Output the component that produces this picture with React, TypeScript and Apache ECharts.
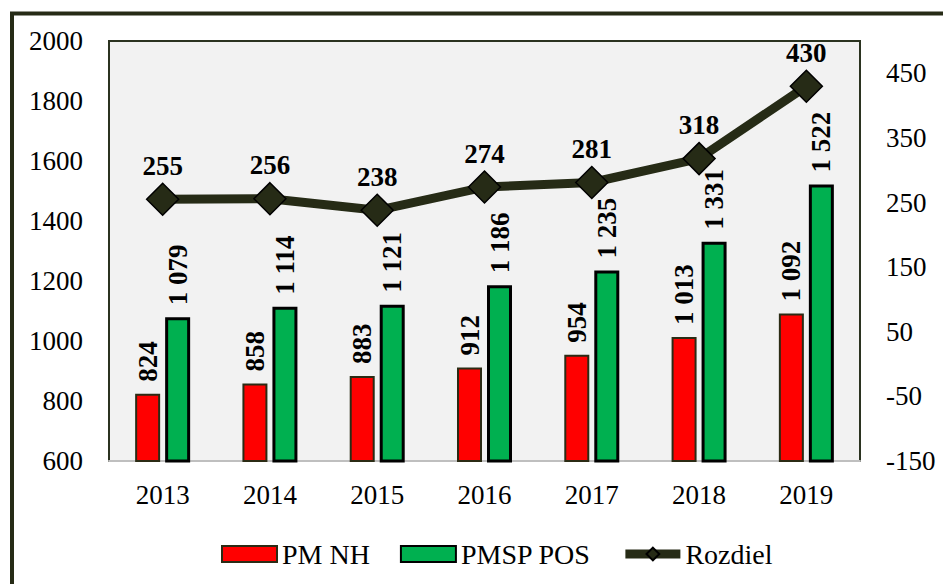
import React, { useEffect, useRef } from 'react';
import * as echarts from 'echarts';

const years = ['2013', '2014', '2015', '2016', '2017', '2018', '2019'];
const pmNH = [824, 858, 883, 912, 954, 1013, 1092];
const pmspPOS = [1079, 1114, 1121, 1186, 1235, 1331, 1522];
const rozdiel = [255, 256, 238, 274, 281, 318, 430];
const rightTickLabels = [-150, -50, 50, 150, 250, 350, 450];

const FONT = 'Liberation Serif';
const DARK = '#262b16';

const fmt = (v: number) => String(v).replace(/\B(?=(\d{3})+(?!\d))/g, ' ');

export default function App() {
  const ref = useRef<HTMLDivElement>(null);
  useEffect(() => {
    if (!ref.current) return;
    const chart = echarts.init(ref.current, undefined, { renderer: 'svg' });
    const barLabel = {
      show: true,
      position: 'top',
      rotate: 90,
      align: 'left',
      verticalAlign: 'middle',
      distance: 12,
      fontSize: 27,
      fontWeight: 'bold',
      color: '#000',
      fontFamily: FONT,
      formatter: (p: any) => fmt(p.value),
    };
    chart.setOption({
      animation: false,
      backgroundColor: '#ffffff',
      textStyle: { fontFamily: FONT },
      graphic: [
        {
          type: 'rect',
          silent: true,
          z: -10,
          shape: { x: 12, y: 13.5, width: 1400, height: 1400 },
          style: { fill: 'none', stroke: DARK, lineWidth: 4 },
        },
      ],
      grid: {
        left: 109,
        right: 83,
        top: 41,
        bottom: 123,
        show: true,
        backgroundColor: '#f2f2f2',
        borderColor: '#2b3320',
        borderWidth: 2,
      },
      legend: {
        left: 216,
        top: 535,
        itemWidth: 55,
        itemHeight: 16,
        itemGap: 30,
        textStyle: { fontSize: 28, color: '#000', fontFamily: FONT },
        data: [
          { name: 'PM NH', icon: 'rect' },
          { name: 'PMSP POS', icon: 'rect' },
          { name: 'Rozdiel', lineStyle: { width: 9, color: DARK } },
        ],
      },
      xAxis: {
        type: 'category',
        data: years,
        axisLine: { show: true, onZero: false, lineStyle: { color: '#bfbfbf', width: 2 } },
        axisTick: { show: false },
        axisLabel: { fontSize: 27, color: '#000', margin: 20, fontFamily: FONT },
        splitLine: { show: false },
      },
      yAxis: [
        {
          type: 'value',
          min: 600,
          max: 2000,
          interval: 200,
          axisLine: { show: false },
          axisTick: { show: false },
          splitLine: { show: false },
          axisLabel: {
            fontSize: 27,
            color: '#000',
            margin: 26,
            fontFamily: FONT,
            formatter: (v: number) => String(v),
          },
        },
        {
          type: 'value',
          position: 'right',
          min: -150,
          max: 500,
          axisLine: { show: false },
          axisTick: { show: false },
          splitLine: { show: false },
          axisLabel: {
            fontSize: 27,
            color: '#000',
            margin: 26,
            fontFamily: FONT,
            customValues: rightTickLabels,
            formatter: (v: number) => String(v),
          },
        },
      ],
      series: [
        {
          name: 'PM NH',
          type: 'bar',
          data: pmNH,
          barWidth: 25,
          barGap: '20%',
          itemStyle: { color: '#ff0000', borderColor: '#2b2b14', borderWidth: 2 },
          label: barLabel,
        },
        {
          name: 'PMSP POS',
          type: 'bar',
          data: pmspPOS,
          barWidth: 25,
          barGap: '20%',
          itemStyle: { color: '#00b050', borderColor: '#000000', borderWidth: 3 },
          label: barLabel,
        },
        {
          name: 'Rozdiel',
          type: 'line',
          yAxisIndex: 1,
          data: rozdiel,
          symbol: 'diamond',
          symbolSize: 32,
          z: 10,
          lineStyle: { color: DARK, width: 9 },
          itemStyle: { color: DARK, borderColor: '#000', borderWidth: 1.5 },
          label: {
            show: true,
            position: 'top',
            distance: 3,
            fontSize: 27,
            fontWeight: 'bold',
            color: '#000',
            fontFamily: FONT,
          },
        },
      ],
    });
    return () => chart.dispose();
  }, []);
  return (
    <div
      ref={ref}
      style={{ position: 'absolute', left: 0, top: 0, width: 943, height: 584 }}
    />
  );
}
